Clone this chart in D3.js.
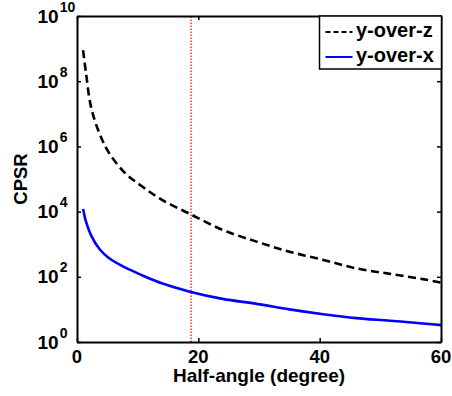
<!DOCTYPE html>
<html lang="en">
<head>
    <meta charset="UTF-8">
    <title>CPSR vs half-angle</title>
    <script src="https://d3js.org/d3.v7.js"></script>
    <style>
        body { margin: 0; background: #fff; }
        text { font-family: Arial, "Liberation Sans", sans-serif; font-weight: bold; }
    </style>
</head>
<body>
<svg></svg>
<script>
    // values
    let angles = [1, 1.5, 2.3, 3.7, 5.3, 8, 10.8, 14, 18.6, 24, 29.6, 35, 40.6, 46, 51.6, 57, 60];
    let yOverZ = [8.9e8, 1.7e8, 1.66e7, 2.5e6, 6.2e5, 1.48e5, 5.8e4, 2.3e4, 8.5e3, 2.75e3, 1.2e3, 590, 330, 182, 123, 85, 66];
    let yOverX = [1.2e4, 4.8e3, 1.9e3, 710, 370, 190, 110, 63, 35, 21, 14.8, 10, 7.1, 5.4, 4.5, 3.7, 3.3];
    let seriesNames = ["y-over-z", "y-over-x"];
    let xTicks = [0, 20, 40, 60];
    let yExponents = [0, 2, 4, 6, 8, 10];
    let markerAngle = 18.8;

    let width = 452;
    let height = 396;
    let margin = {top: 16, right: 11, bottom: 54, left: 77};

    let svg = d3.select("svg")
        .attr("width", width)
        .attr("height", height);

    let x = d3.scaleLinear().domain([0, 60]).range([margin.left, width - margin.right]);
    let y = d3.scaleLog().domain([1, 1e10]).range([height - margin.bottom, margin.top]);

    let yTickVals = yExponents.map(e => Math.pow(10, e));

    // red dotted marker
    svg.append("line")
        .attr("x1", x(markerAngle)).attr("x2", x(markerAngle))
        .attr("y1", y(1)).attr("y2", y(1e10))
        .attr("stroke", "#ff0000")
        .attr("stroke-width", 1.2)
        .attr("stroke-dasharray", "1.5,1.5");

    let line = d3.line()
        .x(d => x(d[0]))
        .y(d => y(d[1]))
        .curve(d3.curveCatmullRom.alpha(0.5));

    svg.append("path")
        .datum(d3.zip(angles, yOverZ))
        .attr("d", line)
        .attr("fill", "none")
        .attr("stroke", "#000")
        .attr("stroke-width", 2.6)
        .attr("stroke-dasharray", "8,4.5");

    svg.append("path")
        .datum(d3.zip(angles, yOverX))
        .attr("d", line)
        .attr("fill", "none")
        .attr("stroke", "#0000ff")
        .attr("stroke-width", 2.6);

    // axes, ticks pointing inwards on all four sides
    let tickLen = 4;
    svg.append("g")
        .attr("transform", "translate(0," + y(1) + ")")
        .call(d3.axisBottom(x).tickValues(xTicks).tickSizeInner(-tickLen).tickSizeOuter(0).tickFormat(""));
    svg.append("g")
        .attr("transform", "translate(0," + y(1e10) + ")")
        .call(d3.axisTop(x).tickValues(xTicks).tickSizeInner(-tickLen).tickSizeOuter(0).tickFormat(""));
    svg.append("g")
        .attr("transform", "translate(" + x(0) + ",0)")
        .call(d3.axisLeft(y).tickValues(yTickVals).tickSizeInner(-tickLen).tickSizeOuter(0).tickFormat(""));
    svg.append("g")
        .attr("transform", "translate(" + x(60) + ",0)")
        .call(d3.axisRight(y).tickValues(yTickVals).tickSizeInner(-tickLen).tickSizeOuter(0).tickFormat(""));
    svg.selectAll(".domain").attr("stroke", "#000").attr("stroke-width", 2);
    svg.selectAll(".tick line").attr("stroke", "#000").attr("stroke-width", 1.5);

    // x tick labels
    svg.selectAll(".xlab").data(xTicks).enter()
        .append("text")
        .attr("x", d => x(d))
        .attr("y", y(1) + 21)
        .attr("text-anchor", "middle")
        .style("font-size", "18.5px")
        .text(d => d);

    // y tick labels: 10 with superscript exponent
    let ylab = svg.selectAll(".ylab").data(yExponents).enter()
        .append("text")
        .attr("x", 37.5)
        .attr("y", d => y(Math.pow(10, d)) + 6.5)
        .style("font-size", "19px");
    ylab.append("tspan").text("10");
    ylab.append("tspan")
        .attr("dx", 1)
        .attr("dy", -11)
        .style("font-size", "14px")
        .text(d => d);

    // axis titles
    svg.append("text")
        .attr("x", (x(0) + x(60)) / 2)
        .attr("y", 382)
        .attr("text-anchor", "middle")
        .style("font-size", "19px")
        .text("Half-angle (degree)");

    svg.append("text")
        .attr("transform", "translate(27," + (y(1) + y(1e10)) / 2 + ") rotate(-90)")
        .attr("text-anchor", "middle")
        .style("font-size", "18.5px")
        .text("CPSR");

    // legend
    let legend = svg.append("g").attr("transform", "translate(319.5,16)");
    legend.append("rect")
        .attr("width", 122).attr("height", 53)
        .attr("fill", "#fff")
        .attr("stroke", "#000")
        .attr("stroke-width", 1.5);
    let styles = [
        {stroke: "#000", dash: "5,3"},
        {stroke: "#0000ff", dash: null}
    ];
    seriesNames.forEach((name, i) => {
        let cy = 16 + i * 25;
        legend.append("line")
            .attr("x1", 6).attr("x2", 33)
            .attr("y1", cy).attr("y2", cy)
            .attr("stroke", styles[i].stroke)
            .attr("stroke-width", 2)
            .attr("stroke-dasharray", styles[i].dash);
        legend.append("text")
            .attr("x", 36.5)
            .attr("y", cy + 5)
            .style("font-size", "20px")
            .text(name);
    });
</script>
</body>
</html>
